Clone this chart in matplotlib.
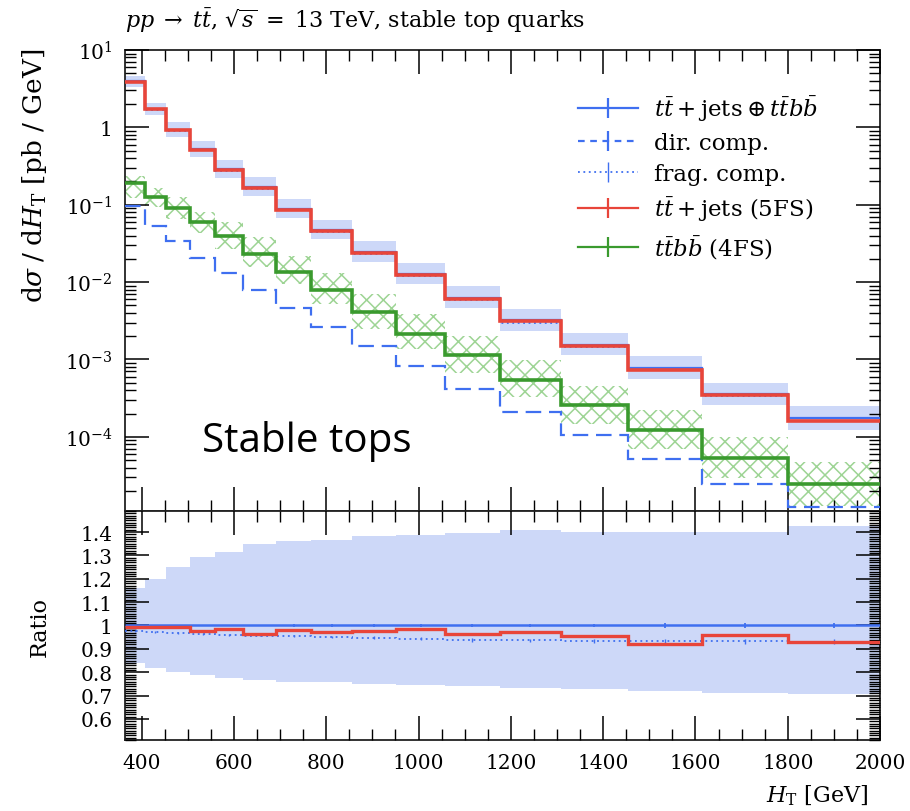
import numpy as np, matplotlib
matplotlib.use('Agg')
import matplotlib.pyplot as plt
from matplotlib.lines import Line2D
from matplotlib.ticker import FixedLocator, MultipleLocator, LogLocator, FuncFormatter, NullFormatter

# H_T bin edges [GeV]
edges = [364, 407, 452, 505, 559, 619, 692, 768, 855, 952, 1057, 1176, 1308, 1454, 1615, 1800, 2000]

# main panel, dsigma/dHT [pb/GeV]
total = [3.92, 1.74, 0.925, 0.523, 0.288, 0.169, 0.0883, 0.0469, 0.0242, 0.0126,
         0.0063, 0.0032, 0.00156, 0.00078, 0.000357, 0.000174]
frag = [3.83, 1.69, 0.895, 0.504, 0.276, 0.162, 0.0842, 0.0446, 0.0229, 0.0119,
        0.0059, 0.0030, 0.00146, 0.00073, 0.000333, 0.000162]
direct = [0.0975, 0.0537, 0.0343, 0.0206, 0.013, 0.0078, 0.0046, 0.0026, 0.00149, 0.00082,
          0.000417, 0.000212, 0.000106, 5.2e-5, 2.47e-5, 1.25e-5]
tt5fs = [3.9, 1.73, 0.92, 0.51, 0.284, 0.163, 0.0865, 0.0455, 0.0236, 0.0124,
         0.00607, 0.0031, 0.00149, 0.00072, 0.000342, 0.000162]
ttbb4fs = [0.191, 0.125, 0.090, 0.0605, 0.039, 0.023, 0.0134, 0.0078, 0.00408, 0.00214,
           0.00115, 0.00055, 0.000254, 0.000121, 5.36e-5, 2.47e-5]
ttbb_up = [1.22, 1.33, 1.39, 1.35, 1.52, 1.66, 1.64, 1.66, 1.72, 1.81, 1.74, 1.79, 1.81, 1.85, 1.85, 1.9]
ttbb_dn = [0.64, 0.74, 0.72, 0.71, 0.69, 0.68, 0.71, 0.66, 0.61, 0.64, 0.585, 0.59, 0.57, 0.58, 0.55, 0.52]

# uncertainty band of the merged prediction (relative)
band_hi = [1.161, 1.20, 1.251, 1.292, 1.316, 1.35, 1.36, 1.367, 1.385, 1.389, 1.396, 1.407, 1.40, 1.40, 1.40, 1.427]
band_lo = [0.84, 0.819, 0.80, 0.788, 0.776, 0.765, 0.76, 0.76, 0.748, 0.744, 0.741, 0.734, 0.727, 0.72, 0.712, 0.709]

# ratio panel
ratio_5fs = [0.995, 0.995, 0.995, 0.976, 0.986, 0.962, 0.98, 0.971, 0.976, 0.987,
             0.962, 0.973, 0.954, 0.919, 0.959, 0.929]
ratio_frag = [0.976, 0.972, 0.968, 0.963, 0.96, 0.957, 0.954, 0.951, 0.947, 0.943,
              0.938, 0.936, 0.934, 0.933, 0.932, 0.931]
stat_err = [0.003, 0.003, 0.003, 0.003, 0.004, 0.004, 0.005, 0.005, 0.006, 0.006,
            0.007, 0.007, 0.008, 0.009, 0.01, 0.012]

BLUE, RED, GREEN = '#3f6ff0', '#e8453a', '#3a9a2e'
BAND, HATCH = '#cdd8f8', '#9dd494'

plt.rcParams['font.family'] = 'DejaVu Serif'
plt.rcParams['mathtext.fontset'] = 'dejavuserif'
plt.rcParams['hatch.linewidth'] = 1.1

E = np.array(edges, float)
ctr = 0.5 * (E[1:] + E[:-1])
tot = np.array(total)
g = np.array(ttbb4fs)

fig = plt.figure(figsize=(9.1, 8.12), dpi=100)
ax = fig.add_axes([0.1374, 0.3695, 0.8297, 0.5677])
rx = fig.add_axes([0.1374, 0.0874, 0.8297, 0.2821], sharex=ax)

ax.stairs(tot * np.array(band_hi), E, baseline=tot * np.array(band_lo), fill=True,
          color=BAND, lw=0, zorder=1)
ax.stairs(g * np.array(ttbb_up), E, baseline=g * np.array(ttbb_dn), fill=True,
          facecolor='none', edgecolor=HATCH, hatch='xx', lw=0, zorder=2)
ax.stairs(direct, E, baseline=None, color=BLUE, lw=1.6, ls=(0, (7, 3.5)), zorder=3)
ax.stairs(frag, E, baseline=None, color=BLUE, lw=1.3, ls=(0, (1, 2)), zorder=3)
ax.stairs(tot, E, baseline=None, color=BLUE, lw=1.6, zorder=3)
ax.stairs(tt5fs, E, baseline=None, color=RED, lw=2.6, zorder=4)
ax.stairs(ttbb4fs, E, baseline=None, color=GREEN, lw=2.6, zorder=4)

rx.stairs(band_hi, E, baseline=band_lo, fill=True, color=BAND, lw=0, zorder=1)
rx.stairs(tot / tot, E, baseline=None, color=BLUE, lw=1.8, zorder=3)
rx.errorbar(ctr, tot / tot, yerr=stat_err, fmt='none', ecolor=BLUE, elinewidth=1.3, zorder=3)
rx.stairs(ratio_frag, E, baseline=None, color=BLUE, lw=1.3, ls=(0, (1, 2)), zorder=3)
rx.errorbar(ctr, ratio_frag, yerr=stat_err, fmt='none', ecolor=BLUE, elinewidth=1.0,
            ls=':', zorder=3)
rx.stairs(ratio_5fs, E, baseline=None, color=RED, lw=2.4, zorder=4)

ax.set_yscale('log')
ax.set_ylim(1.1e-5, 10)
ax.set_xlim(edges[0], edges[-1])
ax.yaxis.set_major_locator(FixedLocator([1e-4, 1e-3, 1e-2, 1e-1, 1, 10]))
ax.yaxis.set_major_formatter(FuncFormatter(
    lambda v, _: '1' if abs(v - 1) < 1e-9 else '$10^{%d}$' % round(np.log10(v))))
ax.yaxis.set_minor_locator(LogLocator(base=10, subs=range(2, 10), numticks=50))
ax.yaxis.set_minor_formatter(NullFormatter())
ax.xaxis.set_major_locator(MultipleLocator(200))
ax.xaxis.set_minor_locator(MultipleLocator(50))
ax.tick_params(labelbottom=False)

rx.set_ylim(0.51, 1.49)
rx.yaxis.set_major_locator(FixedLocator([0.6, 0.7, 0.8, 0.9, 1.0, 1.1, 1.2, 1.3, 1.4]))
rx.yaxis.set_major_formatter(FuncFormatter(lambda v, _: '1' if abs(v - 1) < 1e-9 else '%.1f' % v))
rx.yaxis.set_minor_locator(MultipleLocator(0.01))

for a in (ax, rx):
    a.tick_params(which='both', direction='in', top=True, right=True, labelsize=14.5, pad=9)
    a.tick_params(which='major', length=17, width=1.1)
    a.tick_params(which='minor', length=8, width=1.0)
    for s in a.spines.values():
        s.set_linewidth(1.3)
        s.set_color('#222222')
    a.set_axisbelow(False)

fig.text(125 / 910, 1 - 28 / 812,
         r'$pp \;\rightarrow\; t\bar{t}$, $\sqrt{s}\; =\; 13$ TeV, stable top quarks',
         fontsize=16, va='baseline', ha='left')
fig.text(35 / 910, 1 - 48 / 812, r'$\mathrm{d}\sigma\;/\;\mathrm{d}H_\mathrm{T}$ [pb / GeV]',
         rotation=90, va='top', ha='center', fontsize=19)
fig.text(40 / 910, 1 - 627 / 812, 'Ratio', rotation=90, va='center', ha='center', fontsize=16)
fig.text(868 / 910, 1 - 802 / 812, r'$H_\mathrm{T}$ [GeV]', ha='right', va='baseline', fontsize=16)
fig.text(202 / 910, 1 - 452 / 812, 'Stable tops', family='Open Sans', fontsize=29, va='baseline')

handles = [
    Line2D([], [], color=BLUE, lw=1.6, marker='|', ms=14, mew=1.6),
    Line2D([], [], color=BLUE, lw=1.6, ls=(0, (3, 2.5)), marker='|', ms=14, mew=1.6),
    Line2D([], [], color=BLUE, lw=1.3, ls=(0, (1, 2)), marker='|', ms=14, mew=1.0),
    Line2D([], [], color=RED, lw=1.6, marker='|', ms=14, mew=1.6),
    Line2D([], [], color=GREEN, lw=1.6, marker='|', ms=14, mew=1.6),
]
labels = [r'$t\bar{t} + \mathrm{jets} \oplus t\bar{t}b\bar{b}$', 'dir. comp.', 'frag. comp.',
          r'$t\bar{t} + \mathrm{jets}$ (5FS)', r'$t\bar{t}b\bar{b}$ (4FS)']
ax.legend(handles, labels, loc='upper left', bbox_to_anchor=(578 / 910, 1 - 94 / 812),
          bbox_transform=fig.transFigure, frameon=False, fontsize=16.5, handlelength=2.6,
          handletextpad=0.7, labelspacing=0.4, borderpad=0, borderaxespad=0)

fig.savefig('out.png', dpi=100)
